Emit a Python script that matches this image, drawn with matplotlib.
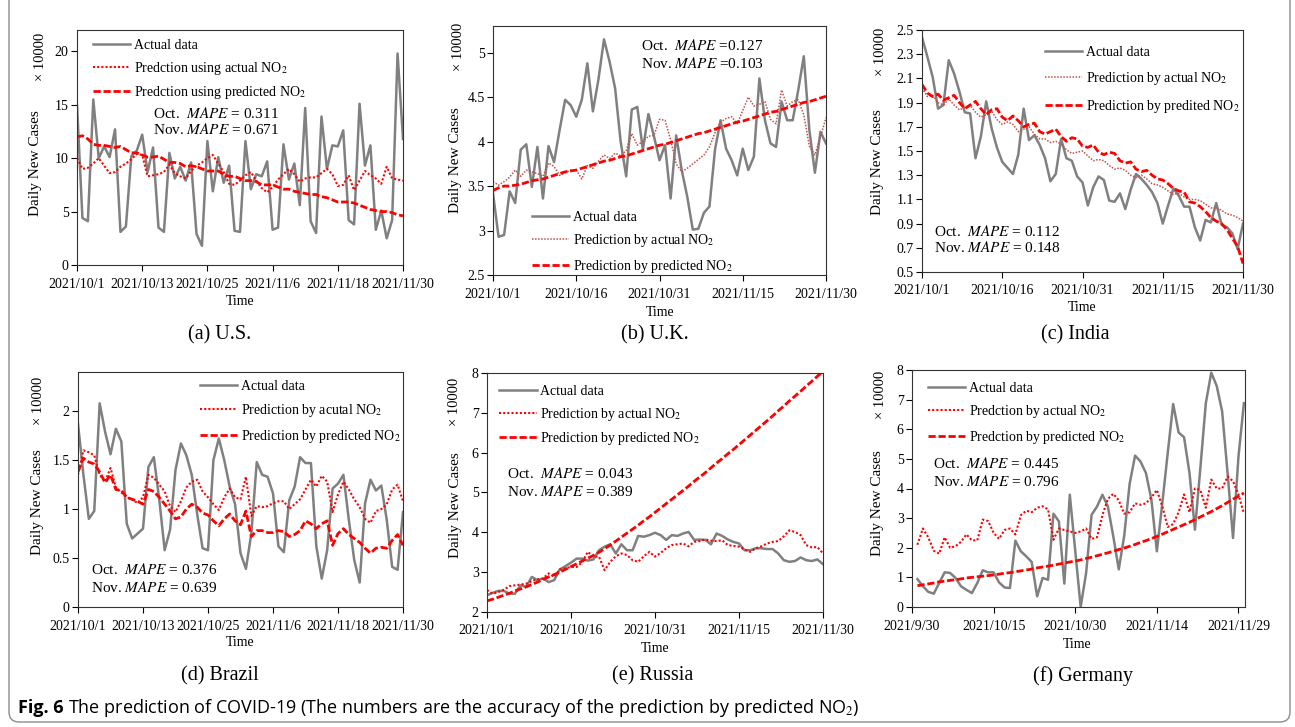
import numpy as np
import matplotlib
matplotlib.use('Agg')
import matplotlib.pyplot as plt
from matplotlib.patches import FancyBboxPatch
from matplotlib.transforms import IdentityTransform

plt.rcParams['font.family'] = ['Liberation Serif', 'DejaVu Serif']
plt.rcParams['mathtext.fontset'] = 'stix'

W, H = 1295, 727

# ---- data (daily values, unit: x 10000 cases) ----
days = np.arange(61)            # 2021/10/1 .. 2021/11/30
days_de = np.arange(1, 62)      # Germany axis starts at 2021/9/30

ticks_12 = [0, 12, 24, 36, 48, 60]
labels_12 = ['2021/10/1', '2021/10/13', '2021/10/25', '2021/11/6', '2021/11/18', '2021/11/30']
ticks_15 = [0, 15, 30, 45, 60]
labels_15 = ['2021/10/1', '2021/10/16', '2021/10/31', '2021/11/15', '2021/11/30']
labels_de = ['2021/9/30', '2021/10/15', '2021/10/30', '2021/11/14', '2021/11/29']

us_actual = [15.0, 4.4, 4.1, 15.5, 10.0, 11.1, 10.1, 12.7, 3.1, 3.6,
             10.2, 10.7, 12.2, 8.7, 11.0, 3.5, 3.1, 10.5, 8.1, 9.2,
             7.9, 9.6, 2.9, 1.8, 11.6, 6.9, 10.1, 7.7, 9.3, 3.2,
             3.1, 11.6, 7.1, 8.5, 8.3, 9.7, 3.3, 3.5, 11.3, 8.0,
             9.5, 5.6, 14.7, 4.1, 3.0, 13.9, 9.0, 11.2, 11.1, 12.6,
             4.2, 3.8, 15.1, 9.3, 11.2, 3.3, 5.1, 2.5, 4.2, 19.8,
             11.8]
us_pred_actual = [10.0, 9.0, 9.1, 9.5, 10.0, 9.3, 8.6, 8.7, 9.2, 9.5,
                  9.9, 10.4, 10.3, 8.3, 8.4, 8.5, 8.7, 9.4, 8.6, 8.3,
                  8.1, 8.8, 9.3, 9.6, 10.0, 10.3, 9.5, 8.7, 7.6, 7.5,
                  7.9, 8.4, 8.7, 7.9, 7.2, 6.8, 7.3, 8.0, 8.5, 9.0,
                  8.5, 7.8, 8.1, 8.2, 8.2, 8.6, 9.0, 8.5, 7.4, 7.5,
                  8.4, 7.0, 7.9, 8.8, 8.4, 8.1, 7.6, 9.2, 8.1, 8.0,
                  7.9]
us_pred_pred = [12.0, 12.1, 11.8, 11.3, 11.2, 11.2, 11.1, 11.0, 11.1, 10.8,
                10.5, 10.5, 10.3, 10.1, 10.1, 10.2, 9.9, 9.6, 9.6, 9.5,
                9.2, 9.3, 9.2, 9.0, 8.8, 8.8, 8.8, 8.5, 8.3, 8.3,
                8.1, 7.9, 7.9, 7.8, 7.5, 7.5, 7.5, 7.3, 7.1, 7.1,
                6.9, 6.8, 6.7, 6.6, 6.6, 6.4, 6.3, 6.1, 5.9, 5.9,
                5.9, 5.8, 5.6, 5.4, 5.2, 5.1, 5.0, 5.0, 4.9, 4.7,
                4.6]

uk_actual = [3.42, 2.93, 2.95, 3.44, 3.31, 3.91, 3.97, 3.49, 3.94, 3.36,
             3.95, 3.77, 4.13, 4.47, 4.41, 4.28, 4.47, 4.88, 4.34, 4.70,
             5.15, 4.90, 4.60, 4.00, 3.61, 4.36, 4.39, 3.91, 4.31, 4.06,
             3.79, 3.96, 3.36, 4.07, 3.68, 3.38, 3.01, 3.02, 3.20, 3.27,
             3.91, 4.24, 3.92, 3.79, 3.62, 3.92, 3.68, 3.83, 4.71, 4.24,
             3.98, 3.94, 4.45, 4.24, 4.24, 4.58, 4.96, 4.13, 3.65, 4.11,
             3.98]
uk_pred_actual = [3.55, 3.51, 3.55, 3.60, 3.68, 3.61, 3.68, 3.66, 3.64, 3.61,
                  3.76, 3.72, 3.62, 3.65, 3.68, 3.68, 3.58, 3.73, 3.70, 3.78,
                  3.85, 3.81, 3.87, 3.84, 3.90, 4.09, 3.96, 4.00, 4.06, 4.07,
                  4.25, 4.24, 4.02, 3.75, 3.66, 3.70, 3.75, 3.80, 3.85, 3.94,
                  4.10, 4.22, 4.26, 4.28, 4.20, 4.35, 4.50, 4.40, 4.42, 4.45,
                  4.25, 4.20, 4.58, 4.40, 4.45, 4.47, 4.30, 3.95, 3.85, 4.05,
                  4.27]
uk_pred_pred = [3.45, 3.48, 3.50, 3.50, 3.51, 3.52, 3.54, 3.56, 3.57, 3.58,
                3.60, 3.62, 3.64, 3.66, 3.67, 3.68, 3.70, 3.72, 3.74, 3.76,
                3.78, 3.79, 3.81, 3.83, 3.84, 3.86, 3.88, 3.90, 3.92, 3.94,
                3.96, 3.97, 3.99, 4.01, 4.03, 4.05, 4.07, 4.09, 4.10, 4.12,
                4.14, 4.16, 4.18, 4.20, 4.22, 4.23, 4.25, 4.27, 4.29, 4.31,
                4.33, 4.34, 4.36, 4.38, 4.40, 4.42, 4.44, 4.45, 4.47, 4.49,
                4.51]

in_actual = [2.44, 2.28, 2.11, 1.85, 1.88, 2.25, 2.14, 1.99, 1.82, 1.81,
             1.44, 1.62, 1.91, 1.69, 1.53, 1.41, 1.36, 1.31, 1.47, 1.85,
             1.59, 1.63, 1.55, 1.44, 1.25, 1.31, 1.60, 1.44, 1.42, 1.29,
             1.24, 1.05, 1.20, 1.29, 1.26, 1.09, 1.08, 1.15, 1.02, 1.18,
             1.31, 1.27, 1.22, 1.16, 1.07, 0.90, 1.05, 1.19, 1.13, 1.04,
             1.04, 0.87, 0.76, 0.93, 0.91, 1.07, 0.89, 0.87, 0.82, 0.69,
             0.90]
in_pred_actual = [2.02, 1.95, 1.96, 1.90, 1.88, 1.93, 1.88, 1.84, 1.86, 1.88,
                  1.82, 1.78, 1.80, 1.83, 1.76, 1.72, 1.74, 1.72, 1.66, 1.68,
                  1.70, 1.64, 1.60, 1.60, 1.57, 1.58, 1.56, 1.51, 1.48, 1.49,
                  1.50, 1.46, 1.42, 1.43, 1.42, 1.38, 1.35, 1.36, 1.34, 1.30,
                  1.28, 1.30, 1.27, 1.23, 1.22, 1.20, 1.17, 1.14, 1.15, 1.12,
                  1.10, 1.10, 1.09, 1.06, 1.03, 1.03, 1.01, 0.98, 0.97, 0.95,
                  0.92]
in_pred_pred = [2.05, 1.98, 1.95, 1.97, 1.92, 1.94, 1.96, 1.90, 1.85, 1.88,
                1.91, 1.85, 1.80, 1.84, 1.85, 1.78, 1.75, 1.79, 1.75, 1.70,
                1.72, 1.73, 1.66, 1.64, 1.66, 1.68, 1.62, 1.58, 1.61, 1.60,
                1.54, 1.53, 1.55, 1.49, 1.47, 1.49, 1.48, 1.42, 1.40, 1.41,
                1.35, 1.33, 1.34, 1.30, 1.27, 1.26, 1.23, 1.19, 1.17, 1.16,
                1.08, 1.07, 1.04, 1.00, 0.95, 0.92, 0.90, 0.85, 0.78, 0.71,
                0.57]

br_actual = [1.87, 1.35, 0.90, 0.98, 2.08, 1.79, 1.56, 1.82, 1.69, 0.85,
             0.70, 0.75, 0.80, 1.43, 1.53, 1.10, 0.58, 0.79, 1.40, 1.67,
             1.55, 1.35, 0.95, 0.60, 0.58, 1.50, 1.72, 1.50, 1.23, 1.05,
             0.55, 0.39, 0.75, 1.48, 1.35, 1.33, 1.16, 0.62, 0.56, 1.09,
             1.23, 1.53, 1.47, 1.47, 0.62, 0.29, 0.58, 1.21, 1.26, 1.35,
             0.89, 0.48, 0.25, 1.06, 1.30, 1.19, 1.24, 0.89, 0.41, 0.38,
             0.97]
br_pred_actual = [1.35, 1.60, 1.58, 1.55, 1.35, 1.28, 1.42, 1.22, 1.17, 1.12,
                  1.10, 1.06, 1.12, 1.35, 1.32, 1.25, 1.18, 1.03, 0.97, 1.08,
                  1.22, 1.28, 1.30, 1.18, 1.12, 1.05, 0.99, 1.12, 1.21, 1.12,
                  1.10, 1.33, 0.93, 1.03, 1.02, 1.03, 1.06, 1.08, 1.08, 1.00,
                  1.05, 1.10, 1.20, 1.30, 1.23, 1.34, 1.28, 0.97, 1.15, 1.28,
                  1.20, 1.10, 1.02, 0.90, 0.86, 0.98, 1.00, 1.05, 1.20, 1.25,
                  1.08]
br_pred_pred = [1.38, 1.52, 1.48, 1.46, 1.38, 1.27, 1.35, 1.20, 1.19, 1.12,
                1.10, 1.08, 1.05, 1.20, 1.18, 1.12, 1.05, 0.98, 0.90, 0.92,
                1.00, 1.05, 1.02, 0.96, 0.94, 0.88, 0.83, 0.90, 0.95, 0.88,
                0.84, 0.98, 0.72, 0.78, 0.78, 0.76, 0.76, 0.78, 0.77, 0.72,
                0.74, 0.78, 0.88, 0.85, 0.80, 0.85, 0.88, 0.63, 0.75, 0.80,
                0.74, 0.70, 0.66, 0.60, 0.55, 0.60, 0.61, 0.60, 0.68, 0.74,
                0.63]

ru_actual = [2.42, 2.48, 2.53, 2.53, 2.46, 2.46, 2.67, 2.63, 2.88, 2.80,
             2.84, 2.75, 2.80, 3.07, 3.15, 3.24, 3.34, 3.34, 3.29, 3.32,
             3.55, 3.64, 3.70, 3.47, 3.70, 3.55, 3.55, 3.91, 3.89, 3.93,
             3.99, 3.93, 3.81, 3.93, 3.91, 3.97, 4.01, 3.81, 3.82, 3.81,
             3.70, 3.97, 3.91, 3.82, 3.76, 3.72, 3.55, 3.55, 3.60, 3.60,
             3.58, 3.58, 3.47, 3.30, 3.26, 3.28, 3.37, 3.30, 3.28, 3.32,
             3.20]
ru_pred_actual = [2.55, 2.46, 2.50, 2.56, 2.65, 2.67, 2.69, 2.71, 2.78, 2.82,
                  2.84, 2.97, 2.88, 3.07, 3.10, 3.13, 3.13, 3.25, 3.51, 3.39,
                  3.39, 3.05, 3.26, 3.40, 3.47, 3.43, 3.30, 3.26, 3.40, 3.51,
                  3.39, 3.48, 3.60, 3.68, 3.70, 3.72, 3.65, 3.76, 3.78, 3.82,
                  3.79, 3.78, 3.80, 3.68, 3.66, 3.64, 3.57, 3.51, 3.60, 3.65,
                  3.72, 3.76, 3.78, 3.90, 4.05, 4.01, 3.93, 3.68, 3.62, 3.63,
                  3.47]
ru_pred_pred = [2.28, 2.32, 2.37, 2.42, 2.47, 2.53, 2.58, 2.63, 2.69, 2.75,
                2.82, 2.88, 2.94, 3.00, 3.07, 3.14, 3.21, 3.28, 3.35, 3.42,
                3.50, 3.59, 3.68, 3.78, 3.88, 3.98, 4.08, 4.18, 4.29, 4.39,
                4.50, 4.61, 4.72, 4.83, 4.94, 5.05, 5.16, 5.28, 5.39, 5.50,
                5.62, 5.74, 5.85, 5.97, 6.08, 6.20, 6.32, 6.44, 6.56, 6.68,
                6.80, 6.92, 7.05, 7.17, 7.30, 7.42, 7.54, 7.67, 7.79, 7.92,
                8.04]

de_actual = [0.94, 0.70, 0.51, 0.45, 0.81, 1.17, 1.15, 0.98, 0.70, 0.58,
             0.47, 0.81, 1.24, 1.17, 1.17, 0.83, 0.66, 0.64, 2.24, 1.88,
             1.71, 1.52, 0.36, 0.98, 0.92, 3.15, 2.89, 0.79, 3.79, 1.90,
             0.00, 1.15, 3.11, 3.39, 3.79, 3.39, 2.38, 1.27, 2.40, 4.16,
             5.11, 4.91, 4.52, 3.62, 1.88, 3.50, 5.20, 6.85, 5.89, 5.73,
             4.52, 2.61, 4.70, 6.88, 7.91, 7.46, 6.60, 4.52, 2.33, 5.08,
             6.88]
de_pred_actual = [2.10, 2.65, 2.35, 1.90, 1.80, 2.35, 2.00, 2.05, 2.20, 2.45,
                  2.25, 2.25, 2.95, 2.90, 2.50, 2.30, 2.60, 2.65, 2.45, 3.10,
                  3.25, 3.20, 3.35, 3.40, 3.30, 2.27, 2.65, 2.60, 2.55, 2.50,
                  2.55, 2.65, 2.30, 2.35, 3.10, 3.65, 3.82, 3.60, 3.15, 3.20,
                  3.50, 3.45, 3.50, 3.70, 3.95, 3.40, 2.70, 2.80, 3.20, 3.80,
                  3.20, 4.00, 3.95, 3.35, 4.30, 4.00, 4.00, 4.40, 4.25, 3.80,
                  3.15]
de_pred_pred = [0.72, 0.75, 0.78, 0.81, 0.85, 0.87, 0.90, 0.92, 0.95, 0.98,
                1.00, 1.02, 1.04, 1.06, 1.08, 1.11, 1.14, 1.16, 1.19, 1.22,
                1.25, 1.28, 1.32, 1.35, 1.38, 1.41, 1.45, 1.48, 1.52, 1.55,
                1.59, 1.64, 1.68, 1.73, 1.78, 1.83, 1.88, 1.94, 1.99, 2.05,
                2.11, 2.18, 2.24, 2.31, 2.38, 2.46, 2.54, 2.62, 2.70, 2.78,
                2.86, 2.95, 3.04, 3.13, 3.22, 3.32, 3.42, 3.53, 3.64, 3.74,
                3.85]


def fx(x):
    return x / W


def fy(y):
    return 1 - y / H


fig = plt.figure(figsize=(W / 100, H / 100), dpi=100)

# frame round the whole figure
frame = FancyBboxPatch((9, 5), 1281, 900, boxstyle='round,pad=0,rounding_size=10',
                       transform=IdentityTransform(), fill=False,
                       edgecolor='#8c8c8c', linewidth=1.0)
fig.patches.append(frame)

GRAY = '#808080'
RED = '#FF0000'

panels = [
    dict(box=(77, 30, 403, 265), x=days, data=(us_actual, us_pred_actual, us_pred_pred),
         labels=('Actual data', 'Predction using actual NO$_2$', 'Predction using predicted NO$_2$'),
         xlim=(0, 60), ylim=(0, 22), yticks=[0, 5, 10, 15, 20], ylabels=['0', '5', '10', '15', '20'],
         xticks=ticks_12, xlabels=labels_12, dot=RED, dotlw=1.5,
         leg=(0.049, 0.962, 0.55), mape=(153, 113, 'Oct.  $MAPE$ = 0.311', 'Nov. $MAPE$ = 0.671'),
         ylab=(35, 163), mult=(40, 57), time=(240, 301), cap=(220, 335, '(a) U.S.')),
    dict(box=(493, 26, 826, 275), x=days, data=(uk_actual, uk_pred_actual, uk_pred_pred),
         labels=('Actual data', 'Prediction by actual NO$_2$', 'Prediction by predicted NO$_2$'),
         xlim=(0, 60), ylim=(2.5, 5.3), yticks=[2.5, 3, 3.5, 4, 4.5, 5],
         ylabels=['2.5', '3', '3.5', '4', '4.5', '5'],
         xticks=ticks_15, xlabels=labels_15, dot='#C0504D', dotlw=1.1,
         leg=(0.117, 0.257, 0.6), mape=(641, 46, 'Oct.  $MAPE$ =0.127', 'Nov. $MAPE$ =0.103'),
         ylab=(455, 160), mult=(458, 47), time=(660, 312), cap=(655, 335, '(b) U.K.')),
    dict(box=(922, 30, 1243, 272), x=days, data=(in_actual, in_pred_actual, in_pred_pred),
         labels=('Actual data', 'Prediction by actual NO$_2$', 'Prediction by predited NO$_2$'),
         xlim=(0, 60), ylim=(0.5, 2.5), yticks=np.arange(0.5, 2.51, 0.2),
         ylabels=['0.5', '0.7', '0.9', '1.1', '1.3', '1.5', '1.7', '1.9', '2.1', '2.3', '2.5'],
         xticks=ticks_15, xlabels=labels_15, dot='#C0504D', dotlw=1.1,
         leg=(0.383, 0.934, 0.8), mape=(934, 231, 'Oct.  $MAPE$ = 0.112', 'Nov. $MAPE$ = 0.148'),
         ylab=(877, 162), mult=(880, 52), time=(1082, 307), cap=(1075, 335, '(c) India')),
    dict(box=(78, 372, 403, 607), x=days, data=(br_actual, br_pred_actual, br_pred_pred),
         labels=('Actual data', 'Prediction by acutal NO$_2$', 'Prediction by predicted NO$_2$'),
         xlim=(0, 60), ylim=(0, 2.4), yticks=[0, 0.5, 1, 1.5, 2], ylabels=['0', '0.5', '1', '1.5', '2'],
         xticks=ticks_12, xlabels=labels_12, dot=RED, dotlw=1.5,
         leg=(0.375, 0.966, 0.65), mape=(91, 570, 'Oct.  $MAPE$ = 0.376', 'Nov. $MAPE$ = 0.639'),
         ylab=(38, 502), mult=(38, 401), time=(240, 643), cap=(220, 676, '(d) Brazil')),
    dict(box=(487, 373, 823, 612), x=days, data=(ru_actual, ru_pred_actual, ru_pred_pred),
         labels=('Actual data', 'Prediction by actual NO$_2$', 'Prediction by predicted NO$_2$'),
         xlim=(0, 60), ylim=(2, 8), yticks=[2, 3, 4, 5, 6, 7, 8], ylabels=['2', '3', '4', '5', '6', '7', '8'],
         xticks=ticks_15, xlabels=labels_15, dot=RED, dotlw=1.5,
         leg=(0.036, 0.95, 0.55), mape=(507, 474, 'Oct.  $MAPE$ = 0.043', 'Nov. $MAPE$ = 0.389'),
         ylab=(455, 505), mult=(455, 402), time=(655, 648), cap=(653, 676, '(e) Russia')),
    dict(box=(912, 370, 1245, 607), x=days_de, data=(de_actual, de_pred_actual, de_pred_pred),
         labels=('Actual data', 'Predction by actual NO$_2$', 'Predction by predicted NO$_2$'),
         xlim=(0, 61.2), ylim=(0, 8), yticks=[0, 1, 2, 3, 4, 5, 6, 7, 8],
         ylabels=['0', '1', '2', '3', '4', '5', '6', '7', '8'],
         xticks=ticks_15, xlabels=labels_de, dot=RED, dotlw=1.5,
         leg=(0.048, 0.95, 0.6), mape=(933, 464, 'Oct.  $MAPE$ = 0.445', 'Nov. $MAPE$ = 0.796'),
         ylab=(877, 503), mult=(881, 395), time=(1077, 644), cap=(1083, 676, '(f) Germany')),
]

for p in panels:
    l, t, r, b = p['box']
    ax = fig.add_axes([fx(l), fy(b), (r - l) / W, (b - t) / H])
    actual, pred_act, pred_pred = p['data']
    ax.plot(p['x'], actual, color=GRAY, lw=1.8, label=p['labels'][0])
    ax.plot(p['x'], pred_act, color=p['dot'], lw=p['dotlw'], linestyle=(0, (1, 1)),
            label=p['labels'][1])
    ax.plot(p['x'], pred_pred, color=RED, lw=2.0, linestyle=(0, (2.6, 1.0)),
            label=p['labels'][2])

    ax.set_xlim(*p['xlim'])
    ax.set_ylim(*p['ylim'])
    ax.set_xticks(p['xticks'])
    ax.set_xticklabels(p['xlabels'], fontsize=10)
    ax.set_yticks(p['yticks'])
    ax.set_yticklabels(p['ylabels'], fontsize=10)
    ax.tick_params(direction='out', length=4, width=0.8)
    ax.tick_params(axis='x', pad=5)
    ax.tick_params(axis='y', pad=2)
    for s in ax.spines.values():
        s.set_linewidth(0.8)
        s.set_color('#333333')

    lx, ly, sp = p['leg']
    ax.legend(loc='upper left', bbox_to_anchor=(lx, ly), frameon=False, fontsize=10,
              borderpad=0, borderaxespad=0, handlelength=2.7, handletextpad=0.25,
              labelspacing=sp)

    mx, my, s1, s2 = p['mape']
    fig.text(fx(mx), fy(my), s1, fontsize=11, va='center')
    fig.text(fx(mx), fy(my + 17), s2, fontsize=11, va='center')

    fig.text(fx(p['ylab'][0]), fy(p['ylab'][1]), 'Daily New Cases', rotation=90,
             fontsize=11, ha='center', va='center')
    fig.text(fx(p['mult'][0]), fy(p['mult'][1]), '× 10000', rotation=90,
             fontsize=10.5, ha='center', va='center')
    fig.text(fx(p['time'][0]), fy(p['time'][1]), 'Time', fontsize=10, ha='center', va='center')
    cx, cy, cap = p['cap']
    fig.text(fx(cx), fy(cy), cap, fontsize=14.5, ha='center', va='center')

# figure caption
cap_font = ['Liberation Sans Narrow', 'Open Sans', 'DejaVu Sans']
fig.text(fx(18), fy(708), 'Fig. 6', fontsize=13, fontweight='bold', family=cap_font, va='center')
fig.text(fx(68), fy(708), 'The prediction of COVID-19 (The numbers are the accuracy of the prediction '
         'by predicted NO$_2$)', fontsize=13, family=cap_font, va='center')

fig.savefig('out.png', dpi=100)
